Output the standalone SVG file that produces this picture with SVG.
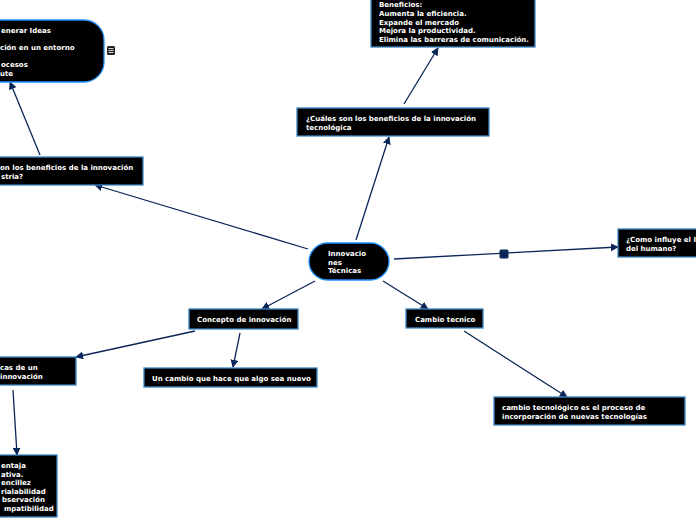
<svg xmlns="http://www.w3.org/2000/svg" width="696" height="520" viewBox="0 0 696 520">
<defs>
<marker id="arr" viewBox="0 0 10 10" refX="9" refY="5" markerWidth="8" markerHeight="8" markerUnits="userSpaceOnUse" orient="auto">
<path d="M0,0 L10,5 L0,10 z" fill="#0b2658"/>
</marker>
<style>
.n{fill:#000;stroke:#3a86c4;stroke-width:1.3}
.r{fill:#000;stroke:#1e90ff;stroke-width:1.3}
.t{font-family:"DejaVu Sans",Verdana,sans-serif;font-weight:bold;font-size:7px;fill:#fff}
.e{stroke:#0b2658;stroke-width:1.3;fill:none;marker-end:url(#arr)}
</style>
</defs>
<rect width="696" height="520" fill="#fff"/>
<g id="connectors">
<line class="e" x1="40" y1="155" x2="10" y2="82"/>
<line class="e" x1="404" y1="104" x2="438" y2="48"/>
<line class="e" x1="356" y1="240" x2="389" y2="137"/>
<line class="e" x1="308" y1="249" x2="95" y2="185"/>
<line class="e" x1="394" y1="259" x2="618" y2="247"/>
<line class="e" x1="315" y1="281" x2="262" y2="309"/>
<line class="e" x1="383" y1="281" x2="428" y2="309"/>
<line class="e" x1="240" y1="333" x2="233" y2="367"/>
<line class="e" x1="195" y1="331" x2="76" y2="357"/>
<line class="e" x1="13" y1="390" x2="17" y2="455"/>
<line class="e" x1="464" y1="331" x2="567" y2="397"/>
<rect x="499.5" y="249.5" width="9" height="9" rx="1.5" fill="#0b2658"/>
</g>
<g id="node-ideas">
<rect class="r" x="-30" y="20" width="134" height="62" rx="20"/>
<text class="t"><tspan x="1" y="33">enerar Ideas</tspan><tspan x="0" y="50">ción en un entorno</tspan><tspan x="1" y="67">ocesos</tspan><tspan x="0" y="76">ute</tspan></text>
<rect x="107" y="46" width="8" height="9" rx="1.5" fill="#222"/>
<path d="M108.5,48.5h5M108.5,50.5h5M108.5,52.5h5" stroke="#fff" stroke-width="0.8"/>
</g>
<g id="node-beneficios">
<rect class="n" x="371" y="-5" width="164" height="52"/>
<text class="t"><tspan x="379" y="7">Beneficios:</tspan><tspan x="379" y="16">Aumenta la eficiencia.</tspan><tspan x="379" y="24.5">Expande el mercado</tspan><tspan x="379" y="33">Mejora la productividad.</tspan><tspan x="379" y="41.5">Elimina las barreras de comunicación.</tspan></text>
</g>
<g id="node-cuales">
<rect class="n" x="297" y="108" width="192" height="28"/>
<text class="t"><tspan x="306" y="121">¿Cuáles son los beneficios de la innovación</tspan><tspan x="306" y="129.5">tecnológica</tspan></text>
</g>
<g id="node-industria">
<rect class="n" x="-10" y="157" width="153" height="28"/>
<text class="t"><tspan x="0" y="170">on los beneficios de la innovación</tspan><tspan x="1" y="178.5">stria?</tspan></text>
</g>
<g id="node-center">
<rect class="r" x="309" y="243" width="80" height="37" rx="18.5"/>
<text class="t"><tspan x="328" y="256">Innovacio</tspan><tspan x="328" y="264.5">nes</tspan><tspan x="328" y="273">Técnicas</tspan></text>
</g>
<g id="node-influye">
<rect class="n" x="618" y="229" width="90" height="28"/>
<text class="t"><tspan x="626" y="242">¿Como influye el I</tspan><tspan x="626" y="250.5">del humano?</tspan></text>
</g>
<g id="node-concepto">
<rect class="n" x="189" y="309" width="109" height="20"/>
<text class="t" x="197" y="322">Concepto de innovación</text>
</g>
<g id="node-cambio-nuevo">
<rect class="n" x="144" y="368" width="173" height="19"/>
<text class="t" x="152" y="380.5">Un cambio que hace que algo sea nuevo</text>
</g>
<g id="node-caracteristicas">
<rect class="n" x="-10" y="357" width="86" height="28"/>
<text class="t"><tspan x="0" y="370">cas de un</tspan><tspan x="0" y="378.5">innovación</tspan></text>
</g>
<g id="node-ventaja">
<rect class="n" x="-10" y="455" width="67" height="62"/>
<text class="t"><tspan x="1" y="468">entaja</tspan><tspan x="1" y="476.5">ativa.</tspan><tspan x="1" y="485">encillez</tspan><tspan x="1" y="493.5">rialabilidad</tspan><tspan x="2" y="502">bservación</tspan><tspan x="4" y="510.5">mpatibilidad</tspan></text>
</g>
<g id="node-cambio-tecnico">
<rect class="n" x="406" y="309" width="77" height="19"/>
<text class="t" x="415" y="321.5">Cambio tecnico</text>
</g>
<g id="node-cambio-tecnologico">
<rect class="n" x="494" y="397" width="191" height="28"/>
<text class="t"><tspan x="502" y="410">cambio tecnológico es el proceso de</tspan><tspan x="502" y="418.5">incorporación de nuevas tecnologías</tspan></text>
</g>
</svg>
